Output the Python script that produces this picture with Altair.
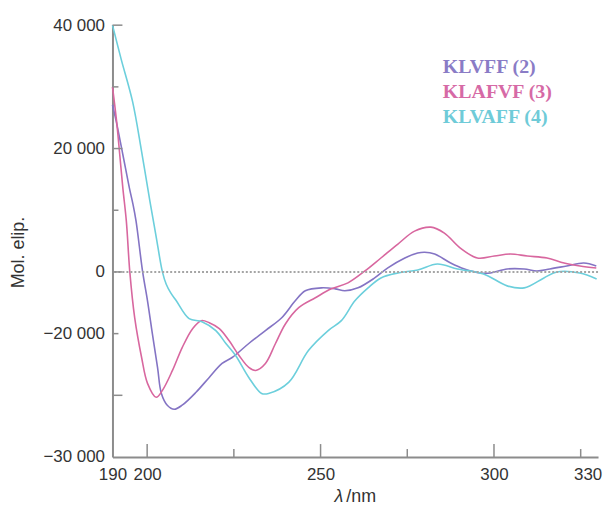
import altair as alt
import pandas as pd

# ---------------- data ----------------
series_names = ["KLVFF (2)", "KLAFVF (3)", "KLVAFF (4)"]
line_colors = ["#8474c4", "#d8679f", "#6ccfdc"]
text_colors = ["#8a7cc6", "#d66aa6", "#6fcbd8"]

klvff_lam = [190.0, 191.1, 193.0, 194.9, 195.9, 196.8, 198.7, 200.1, 201.5, 203.0,
             204.1, 205.8, 207.8, 210.1, 214.1, 217.9, 221.6, 224.5, 229.3, 234.1,
             238.8, 242.7, 245.6, 250.3, 254.2, 257.0, 260.8, 265.6, 269.4, 274.3,
             278.0, 280.0, 282.9, 287.5, 291.5, 296.1, 299.0, 303.8, 308.7, 312.4,
             316.1, 321.0, 325.9, 329.5]
klvff_val = [27100, 24360, 19000, 13550, 11000, 8230, 0, -4680, -10000, -15500,
             -19700, -21600, -22260, -21600, -19500, -17100, -14840, -13870, -11600, -9500,
             -7420, -4680, -3060, -2580, -2740, -3060, -2580, -970, 650, 2260,
             3060, 3200, 2900, 1450, 480, -160, -160, 480, 480, 160,
             480, 970, 1450, 970]

klafvf_lam = [190.0, 191.2, 192.1, 193.0, 194.0, 195.0, 196.4, 198.4, 200.1,
              202.6, 204.4, 207.3, 210.1, 213.1, 215.6, 217.9, 220.8, 223.6, 226.5,
              229.3, 231.3, 234.1, 237.0, 239.9, 243.7, 248.5, 253.1, 257.9, 262.8,
              267.4, 272.3, 277.1, 281.8, 285.7, 290.3, 295.2, 300.1, 304.7, 309.6,
              315.3, 320.2, 324.8, 329.5]
klafvf_val = [30000, 24360, 19000, 13550, 8230, 0, -7420, -13870, -18060,
              -20320, -19200, -15970, -12260, -9200, -7900, -8230, -9200, -11130, -13550,
              -15480, -15970, -14840, -11600, -8390, -5800, -4190, -2740, -1770, 160,
              2260, 4520, 6610, 7260, 6290, 3870, 2260, 2580, 2900, 2580,
              2260, 1450, 970, 650]

klvaff_lam = [190.0, 192.5, 195.8, 198.4, 200.8, 202.6, 204.4, 205.5, 206.8, 208.4,
              212.1, 215.8, 219.8, 222.7, 225.5, 229.3, 233.0, 235.0, 240.8, 246.5,
              252.2, 256.0, 259.9, 263.7, 267.4, 272.3, 278.0, 283.7, 289.5, 297.0,
              303.8, 308.7, 314.4, 318.1, 324.7, 329.6]
klvaff_val = [40000, 34500, 27600, 19500, 11450, 5700, 0, -2000, -3400, -4680,
              -7580, -8060, -9500, -11600, -13550, -17100, -19700, -19700, -17900, -12740,
              -9500, -7900, -4680, -2580, -970, -160, 320, 1290, 480, -320,
              -2260, -2580, -970, 0, -160, -1130]

# axis ticks / labels
x_label_values = [190, 200, 250, 300, 327]
x_label_texts = ["190", "200", "250", "300", "330"]
x_major_ticks = [200, 250, 300]
x_minor_ticks = [225, 275, 325]
y_label_values = [40000, 20000, 0, -10000, -30000]
y_label_texts = ["40 000", "20 000", "0", "\u221220 000", "\u221230 000"]
y_major_ticks = [40000, 20000, 0, -20000]
y_minor_ticks = [30000, 10000, -10000]
x_title_parts = ["\u03bb", "/nm"]
y_title = "Mol. elip."

# ---------------- build ----------------
frames = []
for name, lam, val in [(series_names[0], klvff_lam, klvff_val),
                       (series_names[1], klafvf_lam, klafvf_val),
                       (series_names[2], klvaff_lam, klvaff_val)]:
    frames.append(pd.DataFrame({"lam": lam, "val": val, "series": name}))
df = pd.concat(frames, ignore_index=True)

W, H = 488, 434
GRAY = "#8c8c8c"
TXT = "#333333"
FONT = "Liberation Sans"


def label_expr(values, texts):
    return " : ".join(
        f"datum.value == {v} ? '{t}'" for v, t in zip(values[:-1], texts[:-1])
    ) + f" : '{texts[-1]}'"


xscale = alt.Scale(domain=[190, 330], nice=False, zero=False)
yscale = alt.Scale(domain=[-30000, 40000], nice=False, zero=False)

x_axis = alt.Axis(
    values=x_label_values, labelExpr=label_expr(x_label_values, x_label_texts),
    ticks=False, tickSize=0, grid=False,
    domainColor=GRAY, domainWidth=2,
    labelFont=FONT, labelFontSize=17, labelColor=TXT, labelPadding=10,
    labelFlush=False, labelOverlap=False,
    title="",
)
y_axis = alt.Axis(
    values=y_label_values, labelExpr=label_expr(y_label_values, y_label_texts),
    ticks=False, tickSize=0, grid=False,
    domainColor=GRAY, domainWidth=2,
    labelFont=FONT, labelFontSize=17, labelColor=TXT, labelPadding=8,
    labelFlush=False, labelOverlap=False,
    title=y_title, titleFont=FONT, titleFontSize=18, titleFontWeight="normal",
    titleColor=TXT, titleX=-89, titleY=228, titleAngle=270,
    titleAlign="center", titleBaseline="alphabetic",
)

lines = alt.Chart(df).mark_line(strokeWidth=1.6, interpolate="catmull-rom").encode(
    x=alt.X("lam:Q", scale=xscale, axis=x_axis),
    y=alt.Y("val:Q", scale=yscale, axis=y_axis),
    color=alt.Color("series:N", scale=alt.Scale(domain=series_names, range=line_colors), legend=None),
)

zero_line = alt.Chart(pd.DataFrame({"z": [0]})).mark_rule(
    color="#a5a5a5", strokeWidth=2, strokeDash=[2, 2]
).encode(y=alt.Y("z:Q", scale=yscale, axis=y_axis))

xt_major = alt.Chart(pd.DataFrame({"t": x_major_ticks})).mark_rule(color=GRAY, strokeWidth=1.5).encode(
    x=alt.X("t:Q", scale=xscale, axis=x_axis), y=alt.value(H), y2=alt.value(H - 13))
xt_minor = alt.Chart(pd.DataFrame({"t": x_minor_ticks})).mark_rule(color=GRAY, strokeWidth=1.5).encode(
    x=alt.X("t:Q", scale=xscale, axis=x_axis), y=alt.value(H), y2=alt.value(H - 8))
yt_major = alt.Chart(pd.DataFrame({"t": y_major_ticks})).mark_rule(color=GRAY, strokeWidth=1.5).encode(
    y=alt.Y("t:Q", scale=yscale, axis=y_axis), x=alt.value(0), x2=alt.value(10))
yt_minor = alt.Chart(pd.DataFrame({"t": y_minor_ticks})).mark_rule(color=GRAY, strokeWidth=1.5).encode(
    y=alt.Y("t:Q", scale=yscale, axis=y_axis), x=alt.value(0), x2=alt.value(6))

# x-axis title: italic lambda + "/nm"
xtitle_lam = alt.Chart(pd.DataFrame({"s": [x_title_parts[0]]})).mark_text(
    align="right", baseline="alphabetic", font=FONT, fontSize=18,
    fontStyle="italic", color=TXT
).encode(text="s:N", x=alt.value(232), y=alt.value(H + 45))
xtitle_unit = alt.Chart(pd.DataFrame({"s": [x_title_parts[1]]})).mark_text(
    align="left", baseline="alphabetic", font=FONT, fontSize=18, color=TXT
).encode(text="s:N", x=alt.value(235), y=alt.value(H + 45))

legend_layers = []
for i, (name, col) in enumerate(zip(series_names, text_colors)):
    legend_layers.append(
        alt.Chart(pd.DataFrame({"name": [name]})).mark_text(
            align="left", baseline="alphabetic", font="Liberation Serif",
            fontWeight="bold", fontSize=20, color=col
        ).encode(text="name:N", x=alt.value(332), y=alt.value(48 + 25 * i))
    )

chart = alt.layer(
    lines, zero_line, xt_major, xt_minor, yt_major, yt_minor,
    xtitle_lam, xtitle_unit, *legend_layers
).properties(
    width=W, height=H,
    autosize=alt.AutoSizeParams(type="none"),
    padding={"left": 105, "top": 16, "right": 6, "bottom": 52},
    background="white",
).configure_view(stroke=None)

chart.save("out.html", embed_options={"renderer": "svg", "actions": False})
